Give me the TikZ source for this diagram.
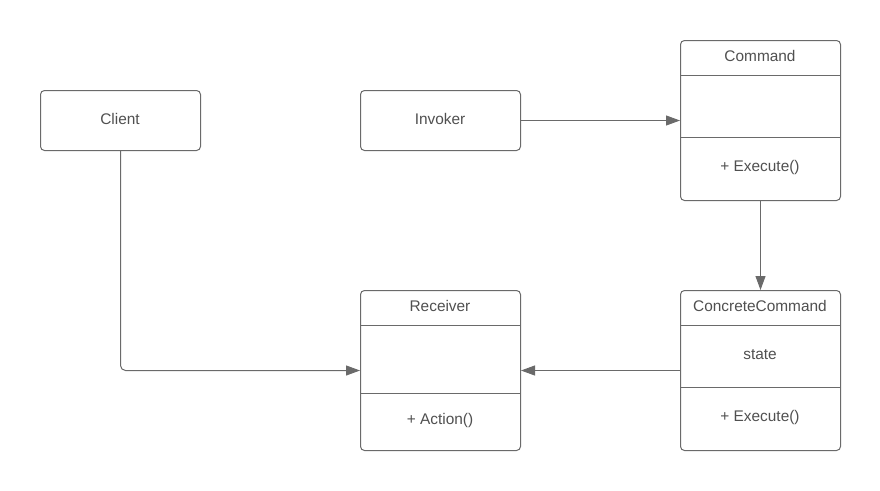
\documentclass[tikz,border=0pt]{standalone}
\usepackage{fontspec}
\setmainfont{Liberation Sans}
\usetikzlibrary{arrows.meta}
\definecolor{edgegray}{HTML}{6A6A6A}
\definecolor{textgray}{HTML}{505050}
\begin{document}
\begin{tikzpicture}[x=1pt,y=-1pt,
  box/.style={draw=edgegray,line width=1pt,rounded corners=4pt,fill=white,
    minimum width=160pt,inner sep=0pt,anchor=north west},
  lbl/.style={text=textgray,font=\fontsize{15.4}{18}\selectfont,inner sep=0pt},
  divider/.style={draw=edgegray,line width=1pt},
  link/.style={draw=edgegray,line width=1pt,-{Triangle[length=14pt,width=10pt]}}]
\useasboundingbox[fill=white] (0,0) rectangle (880,490);

% simple boxes
\node[box,minimum height=60pt] (client) at (40,90) {};
\node[lbl] (clientlbl) at (120,119) {Client};
\node[box,minimum height=60pt] (invoker) at (360,90) {};
\node[lbl] (invokerlbl) at (440,119) {Invoker};

% Command class
\node[box,minimum height=160pt] (command) at (680,40) {};
\draw[divider] (680,75) -- (840,75);
\draw[divider] (680,137) -- (840,137);
\node[lbl] (commandname) at (760,56) {Command};
\node[lbl] (commandop) at (760,168) {+ Execute()};

% Receiver class
\node[box,minimum height=160pt] (receiver) at (360,290) {};
\draw[divider] (360,325) -- (520,325);
\draw[divider] (360,393) -- (520,393);
\node[lbl] (receivername) at (440,306) {Receiver};
\node[lbl] (receiverop) at (440,421) {+ Action()};

% ConcreteCommand class
\node[box,minimum height=160pt] (concrete) at (680,290) {};
\draw[divider] (680,325) -- (840,325);
\draw[divider] (680,387) -- (840,387);
\node[lbl] (concretename) at (760,306) {ConcreteCommand};
\node[lbl] (concretestate) at (760,355) {state};
\node[lbl] (concreteop) at (760,418) {+ Execute()};

% associations
\draw[link] (invoker.east) -- (command.west |- invoker.east);
\draw[link] (command.south) -- (concrete.north);
\draw[link] (concrete.west) -- (receiver.east);
\draw[link,rounded corners=5pt] (client.south) |- (receiver.west);
\end{tikzpicture}
\end{document}
